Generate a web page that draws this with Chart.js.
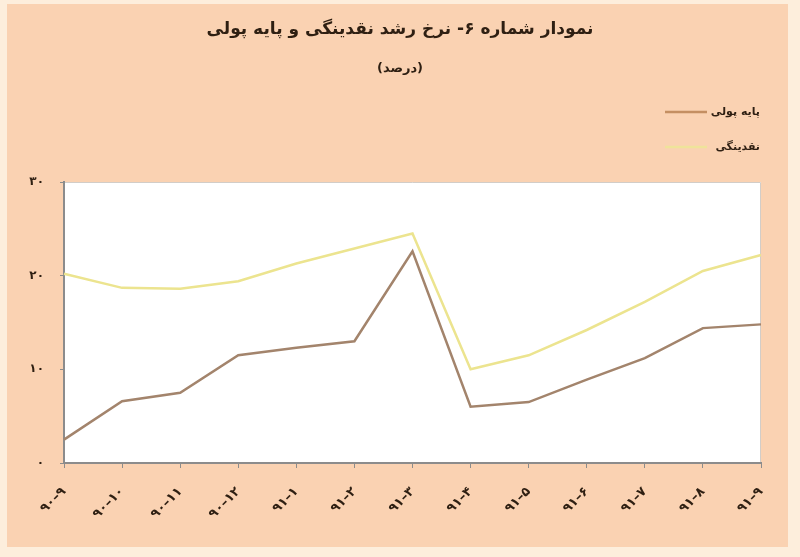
<!DOCTYPE html>
<html>
<head>
<meta charset="utf-8">
<script src="https://cdn.jsdelivr.net/npm/chart.js@4/dist/chart.umd.min.js"></script>
<style>
  html, body { margin: 0; padding: 0; background: #fdeedc; }
  #wrap { width: 800px; height: 557px; position: relative; }
</style>
</head>
<body>
<div id="wrap"><canvas id="c" width="800" height="557"></canvas></div>
<script>
const categories = ['۹۰–۹', '۹۰–۱۰', '۹۰–۱۱', '۹۰–۱۲', '۹۱–۱', '۹۱–۲', '۹۱–۳', '۹۱–۴', '۹۱–۵', '۹۱–۶', '۹۱–۷', '۹۱–۸', '۹۱–۹'];
const baseMoney = [2.5, 6.6, 7.5, 11.5, 12.3, 13.0, 22.6, 6.0, 6.5, 8.9, 11.2, 14.4, 14.8];
const liquidity = [20.2, 18.7, 18.6, 19.4, 21.3, 22.9, 24.5, 10.0, 11.5, 14.2, 17.2, 20.5, 22.2];
const yTickLabels = ['۰', '۱۰', '۲۰', '۳۰'];
const seriesNames = ['پایه پولی', 'نقدینگی'];
const titleText = 'نمودار شماره ۶- نرخ رشد نقدینگی و پایه پولی';
const subtitleText = '(درصد)';

const FONT = "'DejaVu Sans', sans-serif";
const TEXT = '#2e1f12';

const bgPlugin = {
  id: 'bg',
  beforeDraw(chart) {
    const { ctx, width, height, chartArea: a } = chart;
    ctx.save();
    ctx.fillStyle = '#fdeedc';
    ctx.fillRect(0, 0, width, height);
    ctx.fillStyle = '#fad2b2';
    ctx.fillRect(7, 4, width - 19, height - 14);
    ctx.fillStyle = '#ffffff';
    ctx.fillRect(a.left, a.top, a.right - a.left, a.bottom - a.top);
    ctx.strokeStyle = '#d2cdc8';
    ctx.lineWidth = 1;
    ctx.beginPath();
    ctx.moveTo(a.left, a.top + 0.5);
    ctx.lineTo(a.right - 0.5, a.top + 0.5);
    ctx.lineTo(a.right - 0.5, a.bottom);
    ctx.stroke();
    ctx.restore();
  }
};

const legendPlugin = {
  id: 'customLegend',
  afterDraw(chart) {
    const { ctx, chartArea: a } = chart;
    ctx.save();
    chart.data.datasets.forEach((ds, i) => {
      const y = a.top - 70 + i * 35;
      const x1 = a.right - 96, x2 = a.right - 54;
      ctx.strokeStyle = ds.legendColor;
      ctx.lineWidth = 2.5;
      ctx.beginPath();
      ctx.moveTo(x1, y);
      ctx.lineTo(x2, y);
      ctx.stroke();
      ctx.fillStyle = TEXT;
      ctx.font = 'bold 11px ' + FONT;
      ctx.textAlign = 'right';
      ctx.textBaseline = 'middle';
      ctx.direction = 'rtl';
      ctx.fillText(ds.label, a.right - 1, y);
    });
    ctx.restore();
  }
};

new Chart(document.getElementById('c'), {
  type: 'line',
  data: {
    labels: categories,
    datasets: [
      { label: seriesNames[0], data: baseMoney, borderColor: '#a3846c', legendColor: '#c48f62', borderWidth: 2.5, pointRadius: 0, tension: 0 },
      { label: seriesNames[1], data: liquidity, borderColor: '#ece48f', legendColor: '#efe39a', borderWidth: 2.5, pointRadius: 0, tension: 0 }
    ]
  },
  options: {
    responsive: false,
    animation: false,
    devicePixelRatio: 1,
    layout: { padding: { top: 4, left: 0, right: 0, bottom: 34 } },
    plugins: {
      legend: { display: false },
      tooltip: { enabled: false },
      title: {
        display: true, text: titleText, color: TEXT,
        font: { family: FONT, size: 17, weight: 'bold' },
        padding: { top: 15, bottom: 18 }
      },
      subtitle: {
        display: true, text: subtitleText, color: TEXT,
        font: { family: FONT, size: 13, weight: 'bold' },
        padding: { top: 3, bottom: 106 }
      }
    },
    scales: {
      x: {
        offset: false,
        afterFit(s) { s.height = 60; },
        grid: { display: true, drawOnChartArea: false, drawTicks: true, tickLength: 5, color: '#8c8c8c', lineWidth: 1 },
        border: { display: true, color: '#8c8c8c', width: 2 },
        ticks: { color: TEXT, font: { family: FONT, size: 13, weight: 'bold' }, minRotation: 45, maxRotation: 45, padding: 16, autoSkip: false }
      },
      y: {
        min: 0, max: 30,
        afterFit(s) { s.width = 64; },
        grid: { display: true, drawOnChartArea: false, drawTicks: true, tickLength: 4, color: '#8c8c8c', lineWidth: 1 },
        border: { display: true, color: '#8c8c8c', width: 2 },
        ticks: { stepSize: 10, color: TEXT, font: { family: FONT, size: 12, weight: 'bold' }, padding: 16,
          callback: (v) => yTickLabels[Math.round(v / 10)] }
      },
      yRight: {
        position: 'right', min: 0, max: 30,
        afterFit(s) { s.width = 39; },
        grid: { display: false, drawTicks: false },
        border: { display: false },
        ticks: { display: false }
      }
    }
  },
  plugins: [bgPlugin, legendPlugin]
});
</script>
</body>
</html>
